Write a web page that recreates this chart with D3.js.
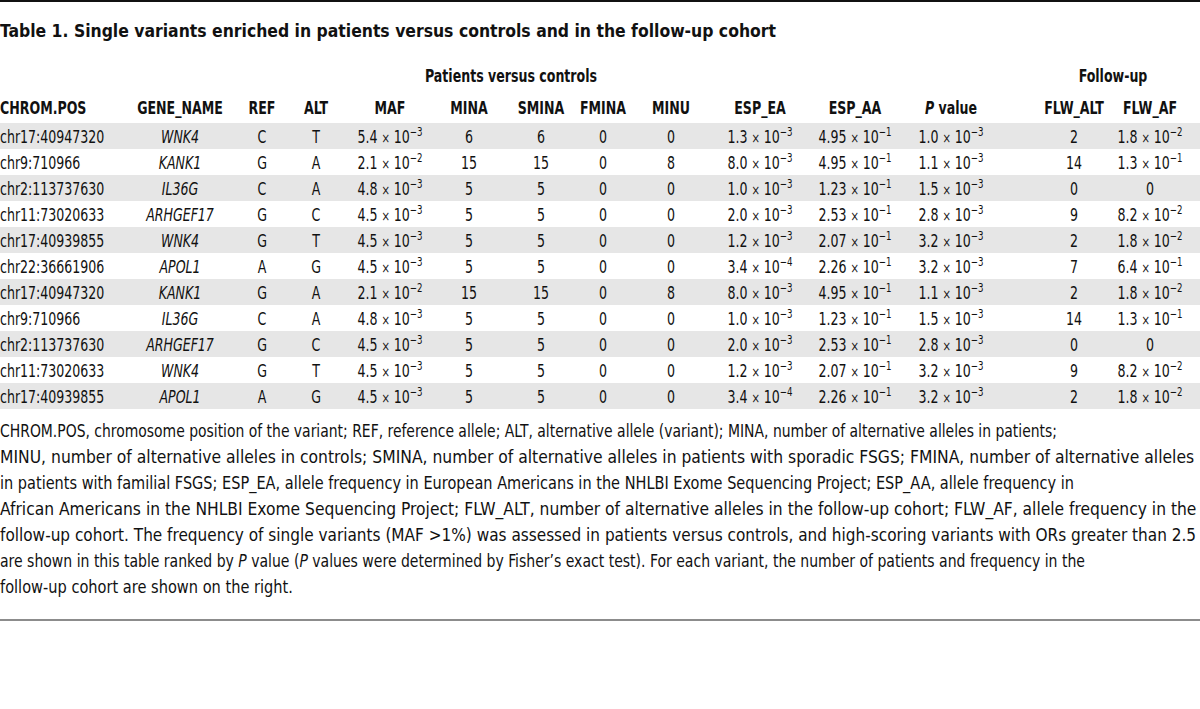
<!DOCTYPE html>
<head>
<meta charset="utf-8">
<script src="https://d3js.org/d3.v7.min.js"></script>
</head>
<style>
body { margin: 0; background: #fff; }
text { font-family: "DejaVu Sans Condensed", sans-serif; fill: #111; }
.hd { font-weight: bold; font-size: 17.5px; }
.cell { font-size: 17.5px; }
.cap { font-size: 17px; }
</style>
<body>
<script>
// table data
var columns = ["CHROM.POS", "GENE_NAME", "REF", "ALT", "MAF", "MINA", "SMINA", "FMINA", "MINU", "ESP_EA", "ESP_AA", "P value", "FLW_ALT", "FLW_AF"];
var chromPos = ["chr17:40947320", "chr9:710966", "chr2:113737630", "chr11:73020633", "chr17:40939855", "chr22:36661906", "chr17:40947320", "chr9:710966", "chr2:113737630", "chr11:73020633", "chr17:40939855"];
var geneName = ["WNK4", "KANK1", "IL36G", "ARHGEF17", "WNK4", "APOL1", "KANK1", "IL36G", "ARHGEF17", "WNK4", "APOL1"];
var ref = ["C", "G", "C", "G", "G", "A", "G", "C", "G", "G", "A"];
var alt = ["T", "A", "A", "C", "T", "G", "A", "A", "C", "T", "G"];
var maf = ["5.4e-3", "2.1e-2", "4.8e-3", "4.5e-3", "4.5e-3", "4.5e-3", "2.1e-2", "4.8e-3", "4.5e-3", "4.5e-3", "4.5e-3"];
var mina = [6, 15, 5, 5, 5, 5, 15, 5, 5, 5, 5];
var smina = [6, 15, 5, 5, 5, 5, 15, 5, 5, 5, 5];
var fmina = [0, 0, 0, 0, 0, 0, 0, 0, 0, 0, 0];
var minu = [0, 8, 0, 0, 0, 0, 8, 0, 0, 0, 0];
var espEa = ["1.3e-3", "8.0e-3", "1.0e-3", "2.0e-3", "1.2e-3", "3.4e-4", "8.0e-3", "1.0e-3", "2.0e-3", "1.2e-3", "3.4e-4"];
var espAa = ["4.95e-1", "4.95e-1", "1.23e-1", "2.53e-1", "2.07e-1", "2.26e-1", "4.95e-1", "1.23e-1", "2.53e-1", "2.07e-1", "2.26e-1"];
var pValue = ["1.0e-3", "1.1e-3", "1.5e-3", "2.8e-3", "3.2e-3", "3.2e-3", "1.1e-3", "1.5e-3", "2.8e-3", "3.2e-3", "3.2e-3"];
var flwAlt = [2, 14, 0, 9, 2, 7, 2, 14, 0, 9, 2];
var flwAf = ["1.8e-2", "1.3e-1", "0", "8.2e-2", "1.8e-2", "6.4e-1", "1.8e-2", "1.3e-1", "0", "8.2e-2", "1.8e-2"];

var groups = ["Patients versus controls", "Follow-up"];

var title = "Table 1. Single variants enriched in patients versus controls and in the follow-up cohort";
var caption = [
  "CHROM.POS, chromosome position of the variant; REF, reference allele; ALT, alternative allele (variant); MINA, number of alternative alleles in patients;",
  "MINU, number of alternative alleles in controls; SMINA, number of alternative alleles in patients with sporadic FSGS; FMINA, number of alternative alleles",
  "in patients with familial FSGS; ESP_EA, allele frequency in European Americans in the NHLBI Exome Sequencing Project; ESP_AA, allele frequency in",
  "African Americans in the NHLBI Exome Sequencing Project; FLW_ALT, number of alternative alleles in the follow-up cohort; FLW_AF, allele frequency in the",
  "follow-up cohort. The frequency of single variants (MAF >1%) was assessed in patients versus controls, and high-scoring variants with ORs greater than 2.5",
  "are shown in this table ranked by |P| value (|P| values were determined by Fisher’s exact test). For each variant, the number of patients and frequency in the",
  "follow-up cohort are shown on the right."
];
// how far each caption line runs across the page
var captionWidths = [1058, 1195, 1075, 1197, 1197, 1086, 293];

var width = 1200, height = 709;
var squeeze = 0.8; // the original face is a narrow one
var svg = d3.select("body").append("svg")
    .attr("width", width)
    .attr("height", height);

// column centres
var x = d3.scaleOrdinal()
    .domain(columns)
    .range([0, 180, 262, 316, 390, 469, 541, 603, 671, 760, 855, 951, 1074, 1150]);
var gx = d3.scaleOrdinal().domain(groups).range([511, 1113]);

var rowIdx = d3.range(chromPos.length);
var y = d3.scaleBand().domain(rowIdx).range([123, 409]);

var rows = rowIdx.map(function(i) {
  return [chromPos[i], geneName[i], ref[i], alt[i], maf[i], mina[i], smina[i], fmina[i], minu[i], espEa[i], espAa[i], pValue[i], flwAlt[i], flwAf[i]];
});

// top rule
svg.append("line").attr("x1", 0).attr("x2", width).attr("y1", 1).attr("y2", 1)
    .attr("stroke", "#111").attr("stroke-width", 2);

svg.append("text").attr("x", 0).attr("y", 37)
    .style("font-weight", "bold").style("font-size", "18.5px")
    .attr("textLength", 776).attr("lengthAdjust", "spacingAndGlyphs")
    .text(title);

// group headings
svg.selectAll(".grp").data(groups).enter().append("text")
    .attr("class", "hd")
    .attr("transform", function(d) { return "translate(" + gx(d) + ",82) scale(" + squeeze + ",1)"; })
    .attr("text-anchor", "middle")
    .text(function(d) { return d; });

// column headings
svg.selectAll(".colhd").data(columns).enter().append("text")
    .attr("class", "hd")
    .attr("transform", function(d) { return "translate(" + x(d) + ",114) scale(" + squeeze + ",1)"; })
    .attr("text-anchor", function(d, i) { return i === 0 ? "start" : "middle"; })
    .each(function(d) {
      var t = d3.select(this);
      if (d === "P value") {
        t.append("tspan").style("font-style", "italic").text("P");
        t.append("tspan").text(" value");
      } else t.text(d);
    });

// zebra stripes
svg.selectAll(".stripe").data(rowIdx.filter(function(i) { return i % 2 === 0; })).enter()
  .append("rect")
    .attr("x", 0).attr("width", width)
    .attr("y", function(i) { return y(i); })
    .attr("height", y.bandwidth())
    .attr("fill", "#e6e6e6");

function sci(sel, v) {
  v = String(v);
  if (v.indexOf("e") < 0) { sel.text(v); return; }
  var p = v.split("e");
  sel.append("tspan").text(p[0] + " ");
  sel.append("tspan").style("font-size", "14px").text("×");
  sel.append("tspan").text(" 10");
  sel.append("tspan").attr("dy", -6.5).style("font-size", "12px").text(p[1].replace("-", "−"));
}

var rowG = svg.selectAll(".row").data(rows).enter().append("g")
    .attr("transform", function(d, i) { return "translate(0," + (y(i) + y.bandwidth() / 2 + 6.5) + ")"; });

rowG.selectAll("text").data(function(d) { return d; }).enter().append("text")
    .attr("class", "cell")
    .attr("transform", function(d, j) { return "translate(" + x(columns[j]) + ",0) scale(" + squeeze + ",1)"; })
    .attr("text-anchor", function(d, j) { return j === 0 ? "start" : "middle"; })
    .style("font-style", function(d, j) { return j === 1 ? "italic" : null; })
    .each(function(d) { sci(d3.select(this), d); });

// caption, each line squeezed to the width it has in the original
caption.forEach(function(line, i) {
  var t = svg.append("text").attr("class", "cap");
  line.split("|").forEach(function(part, k) {
    t.append("tspan").style("font-style", k % 2 ? "italic" : null).text(part);
  });
  var k = captionWidths[i] / t.node().getComputedTextLength();
  t.attr("transform", "translate(0," + (437 + i * 26) + ") scale(" + k + ",1)");
});

svg.append("line").attr("x1", 0).attr("x2", width).attr("y1", 620).attr("y2", 620)
    .attr("stroke", "#666").attr("stroke-width", 1.5);
</script>
</body>
